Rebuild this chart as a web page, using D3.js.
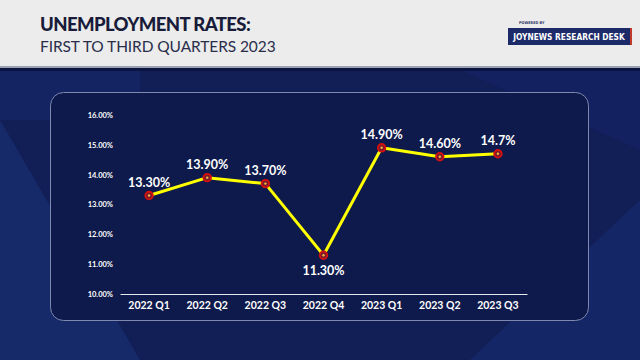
<!DOCTYPE html>
<html><head><meta charset="utf-8">
<script src="https://cdn.jsdelivr.net/npm/d3@7"></script>
<style>body{margin:0;background:#fff;}svg{display:block;}</style>
</head><body>
<svg id="c" width="640" height="360"></svg>
<script>
const categories = ["2022 Q1","2022 Q2","2022 Q3","2022 Q4","2023 Q1","2023 Q2","2023 Q3"];
const rates = [13.3, 13.9, 13.7, 11.3, 14.9, 14.6, 14.7];
const rateLabels = ["13.30%","13.90%","13.70%","11.30%","14.90%","14.60%","14.7%"];
const yTicks = [10,11,12,13,14,15,16];
const titleText = "UNEMPLOYMENT RATES:";
const subtitleText = "FIRST TO THIRD QUARTERS 2023";

const svg = d3.select("#c");
svg.append("rect").attr("x",0).attr("y",0).attr("width",640).attr("height",360).attr("fill","#121e56");
const bg = svg.append("g");
bg.append("path").attr("d","M0,120 L140,360 L0,360 Z").attr("fill","#172a6c").attr("opacity",0.9);
bg.append("path").attr("d","M0,70 L140,70 L140,120 L0,120 Z").attr("fill","#15266a").attr("opacity",0.6);
bg.append("path").attr("d","M470,360 L640,200 L640,360 Z").attr("fill","#17286a").attr("opacity",0.8);
bg.append("path").attr("d","M460,70 L640,70 L640,150 Z").attr("fill","#15246a").attr("opacity",0.5);
// header
svg.append("rect").attr("x",0).attr("y",0).attr("width",640).attr("height",66).attr("fill","#ececec");
svg.append("rect").attr("x",0).attr("y",66).attr("width",640).attr("height",2).attr("fill","#9aa1b2");
svg.append("rect").attr("x",0).attr("y",68).attr("width",640).attr("height",3).attr("fill","#0c1540");
svg.append("text").attr("x",40).attr("y",31).text(titleText)
  .attr("font-family","Lato, 'Open Sans', sans-serif").attr("font-weight",900).attr("font-size",18.5)
  .attr("fill","#181c3a").attr("letter-spacing",-0.6);
svg.append("text").attr("x",40).attr("y",52).text(subtitleText)
  .attr("font-family","Lato, 'Open Sans', sans-serif").attr("font-weight",400).attr("font-size",15.5)
  .attr("fill","#2a2e4a").attr("letter-spacing",-0.1);
// logo
svg.append("text").attr("x",519).attr("y",24).text("POWERED BY")
  .attr("font-family","'DejaVu Sans Condensed', 'DejaVu Sans', sans-serif").attr("font-weight","bold")
  .attr("font-size",3.8).attr("fill","#2b3366");
svg.append("rect").attr("x",508).attr("y",28).attr("width",122).attr("height",17).attr("fill","#1c2a6a");
svg.append("rect").attr("x",630).attr("y",28).attr("width",2).attr("height",17).attr("fill","#c0392b");
svg.append("text").attr("x",569).attr("y",40).attr("text-anchor","middle").text("JOYNEWS RESEARCH DESK")
  .attr("font-family","'DejaVu Sans Condensed', 'DejaVu Sans', sans-serif").attr("font-weight","bold")
  .attr("font-size",8.3).attr("fill","#ffffff");

// panel
svg.append("rect").attr("x",50.5).attr("y",92.5).attr("width",538).attr("height",228).attr("rx",13)
  .attr("fill","#0e1a4b").attr("stroke","#7e88b0").attr("stroke-width",1);

const x = d3.scaleBand().domain(categories).range([120,527]);
const y = d3.scaleLinear().domain([10,16]).range([294,115]);

const yAxis = d3.axisLeft(y).tickValues(yTicks).tickSize(0).tickPadding(0).tickFormat(d=>d3.format(".2f")(d)+"%");
const ya = svg.append("g").attr("transform","translate(113,0)").call(yAxis);
ya.select(".domain").remove();
ya.selectAll("text").attr("fill","#ffffff").attr("font-family","Lato, 'Open Sans', sans-serif")
  .attr("font-size",7.5).attr("font-weight",700);

const xAxis = d3.axisBottom(x).tickSize(0).tickPadding(8);
const xa = svg.append("g").attr("transform","translate(0,294)").call(xAxis);
xa.select(".domain").attr("stroke","#e6e8f0").attr("stroke-width",1.2);
xa.selectAll("text").attr("fill","#ffffff").attr("font-family","Lato, 'Open Sans', sans-serif")
  .attr("font-size",10.5).attr("font-weight",700);

const cx = d => x(d) + x.bandwidth()/2;
const data = categories.map((c,i)=>({c, v:rates[i], l:rateLabels[i]}));

svg.append("path").datum(data)
  .attr("d", d3.line().x(d=>cx(d.c)).y(d=>y(d.v)))
  .attr("fill","none").attr("stroke","#ffff00").attr("stroke-width",3).attr("stroke-linejoin","round");

svg.selectAll("circle.m").data(data).enter().append("circle")
  .attr("cx",d=>cx(d.c)).attr("cy",d=>y(d.v)).attr("r",3.8)
  .attr("fill","#7a1c2c").attr("stroke","#d80f0f").attr("stroke-width",1.8);
svg.selectAll("circle.d").data(data).enter().append("circle")
  .attr("cx",d=>cx(d.c)).attr("cy",d=>y(d.v)).attr("r",1.2)
  .attr("fill","#f2b640");

svg.selectAll("text.lbl").data(data).enter().append("text")
  .attr("x",d=>cx(d.c)).attr("y",d=> d.v < 12 ? y(d.v)+20 : y(d.v)-9)
  .attr("text-anchor","middle").text(d=>d.l)
  .attr("fill","#ffffff").attr("font-family","Lato, 'Open Sans', sans-serif")
  .attr("font-size",12.5).attr("font-weight",700);
</script>
</body></html>
